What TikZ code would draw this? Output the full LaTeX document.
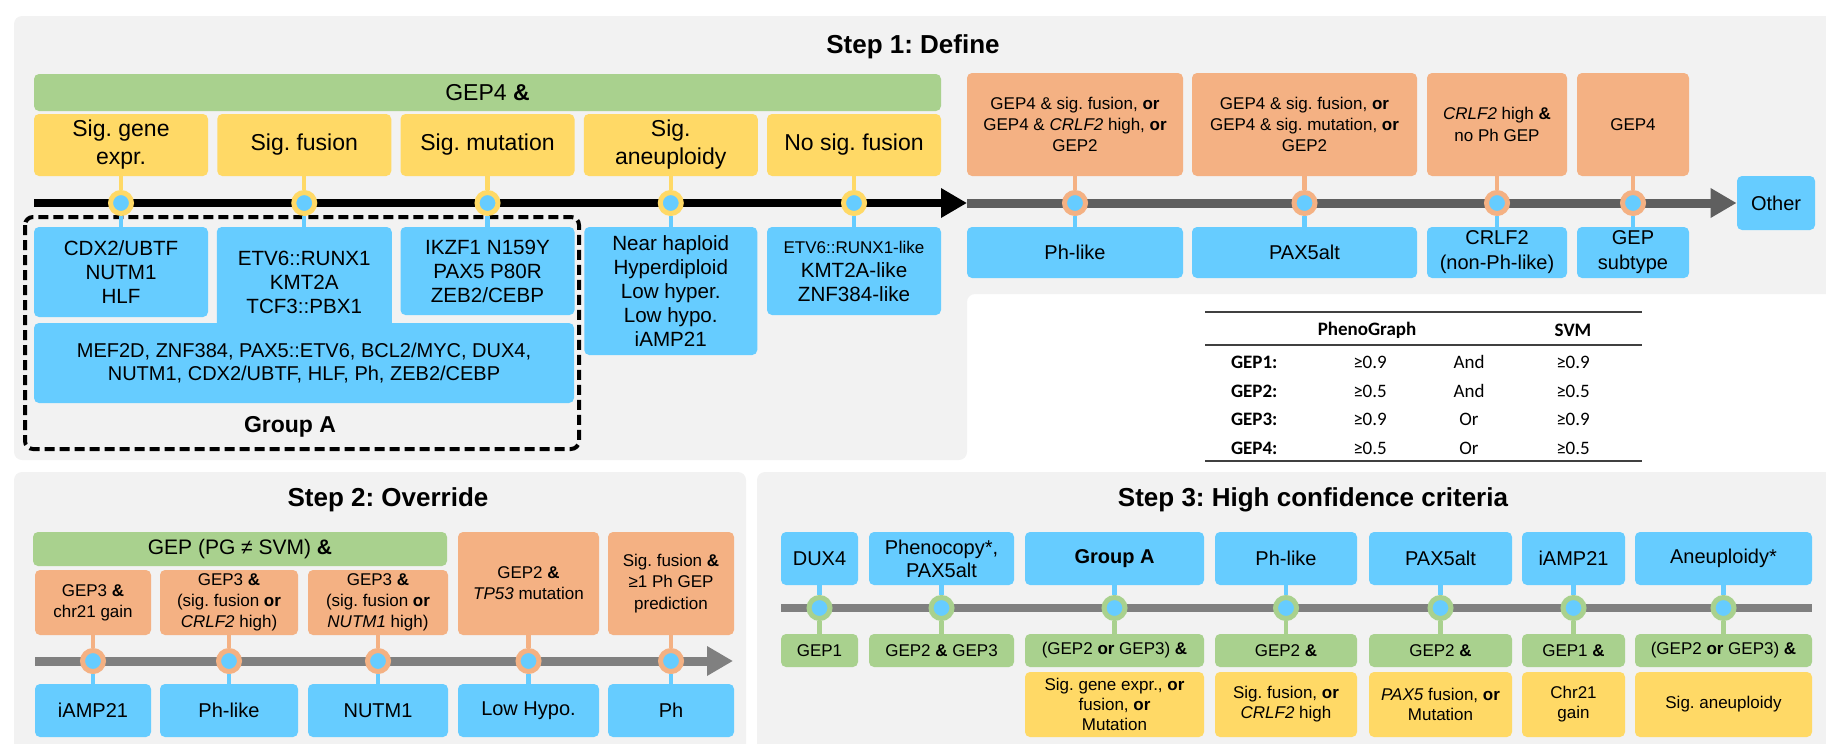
\documentclass[tikz,border=0pt]{standalone}
\usepackage{fontspec}
\setmainfont{Liberation Sans}
\newfontfamily\tablefont{Carlito}
\usetikzlibrary{arrows.meta,positioning}
\frenchspacing

\definecolor{panelgray}{HTML}{F2F2F2}
\definecolor{boxblue}{HTML}{66CCFF}
\definecolor{boxyellow}{HTML}{FFD966}
\definecolor{boxorange}{HTML}{F4B183}
\definecolor{boxgreen}{HTML}{A9D18E}
\definecolor{darkline}{HTML}{5F5F5F}
\definecolor{midline}{HTML}{808080}
\definecolor{rulegray}{HTML}{404040}

\tikzset{
  box/.style={rounded corners=2.5pt, inner sep=0pt, align=center},
  wh/.style 2 args={minimum width=#1, minimum height=#2},
  bluebox/.style={box, fill=boxblue, font=\fontsize{10}{12.5}\selectfont},
  blueboxl/.style={box, fill=boxblue, font=\fontsize{10.3}{12}\selectfont},
  yellowbox/.style={box, fill=boxyellow, font=\fontsize{8.5}{10}\selectfont},
  yellowboxl/.style={box, fill=boxyellow, font=\fontsize{11.5}{14}\selectfont},
  orangebox/.style={box, fill=boxorange, font=\fontsize{8.5}{10.6}\selectfont},
  greenbox/.style={box, fill=boxgreen, font=\fontsize{8.5}{10}\selectfont},
  greenbar/.style={box, fill=boxgreen, font=\fontsize{11.5}{14}\selectfont},
  steptitle/.style={font=\fontsize{13}{15}\selectfont\bfseries},
  joint/.style={circle, draw=#1, fill=boxblue, line width=2.5pt, minimum size=10.5pt, inner sep=0pt},
  stem/.style={draw=#1, line width=2.2pt},
  blackarrow/.style={line width=4pt, -{Triangle[length=13pt,width=14pt]}},
  grayarrow/.style={draw=#1, line width=4.5pt, -{Triangle[length=13pt,width=14pt]}},
  grayline/.style={draw=midline, line width=4.2pt},
  groupframe/.style={line width=2pt, dash pattern=on 5pt off 2.5pt, rounded corners=4pt},
  tabhead/.style={font=\tablefont\fontsize{9.5}{11}\selectfont\bfseries},
  tabcell/.style={font=\tablefont\fontsize{9.5}{11}\selectfont},
  tabrule/.style={draw=rulegray, line width=#1}
}

\begin{document}
\begin{tikzpicture}[x=0.5pt, y=-0.5pt]
        \useasboundingbox (0,0) rectangle (1826,744);

        % ================== Panels ==================
        \fill[panelgray, rounded corners=4pt] (14,16) -- (1850,16) -- (1850,294) -- (967,294) -- (967,460) -- (14,460) -- cycle;
        \fill[panelgray, rounded corners=4pt] (14,472) rectangle (746,770);
        \fill[panelgray, rounded corners=4pt] (757,472) rectangle (1850,770);

        % ================== Step 1: Define ==================
        \node[steptitle] (title1) at (913,47) {Step 1: Define};
        \node[greenbar, wh={453.5pt}{18.5pt}] (gep4) at (487.5,92.5) {GEP4 \textbf{\&}};

        % Left side criteria
        \node[yellowboxl, wh={87pt}{31pt}] (crit1) at (121,145) {Sig. gene\\expr.};
        \node[yellowboxl, wh={87pt}{31pt}] (crit2) at (304.25,145) {Sig. fusion};
        \node[yellowboxl, wh={87pt}{31pt}] (crit3) at (487.5,145) {Sig. mutation};
        \node[yellowboxl, wh={87pt}{31pt}] (crit4) at (670.75,145) {Sig.\\aneuploidy};
        \node[yellowboxl, wh={87pt}{31pt}] (crit5) at (854,145) {No sig. fusion};

        % Left side subtypes
        \node[blueboxl, wh={87pt}{45pt}] (sub1) at (121,272) {CDX2/UBTF\\NUTM1\\HLF};
        \node[blueboxl, wh={87.5pt}{55pt}] (sub2) at (304.25,282) {ETV6::RUNX1\\KMT2A\\TCF3::PBX1};
        \node[blueboxl, wh={87pt}{44pt}] (sub3) at (487.5,271) {IKZF1 N159Y\\PAX5 P80R\\ZEB2/CEBP};
        \node[box, fill=boxblue, font=\fontsize{10}{11.5}\selectfont, wh={270pt}{40pt}] (subAll) at (304,363) {MEF2D, ZNF384, PAX5::ETV6, BCL2/MYC, DUX4,\\NUTM1, CDX2/UBTF, HLF, Ph, ZEB2/CEBP};
        \node[blueboxl, wh={86.5pt}{64pt}] (sub4) at (670.75,291) {Near haploid\\Hyperdiploid\\Low hyper.\\Low hypo.\\iAMP21};
        \node[blueboxl, wh={87pt}{44pt}] (sub5) at (854,271) {{\fontsize{8.5}{12}\selectfont ETV6::RUNX1-like}\\KMT2A-like\\ZNF384-like};
        \node[font=\fontsize{11.5}{14}\selectfont\bfseries] (groupA) at (290,427) {Group A};

        % Right side rules and subtypes
        \node[orangebox, wh={108pt}{51.5pt}] (rRule1) at (1075,124.5) {GEP4 \& sig. fusion, \textbf{or}\\GEP4 \& \textit{CRLF2} high, \textbf{or}\\GEP2};
        \node[orangebox, wh={112.5pt}{51.5pt}] (rRule2) at (1304.5,124.5) {GEP4 \& sig. fusion, \textbf{or}\\GEP4 \& sig. mutation, \textbf{or}\\GEP2};
        \node[orangebox, wh={70pt}{51.5pt}] (rRule3) at (1497,124.5) {\textit{CRLF2} high \textbf{\&}\\no Ph GEP};
        \node[orangebox, wh={56pt}{51.5pt}] (rRule4) at (1633,124.5) {GEP4};
        \node[bluebox, wh={108pt}{25.5pt}] (rRes1) at (1075,252.5) {Ph-like};
        \node[bluebox, wh={112.5pt}{25.5pt}] (rRes2) at (1304.5,252.5) {PAX5alt};
        \node[bluebox, wh={70pt}{25.5pt}] (rRes3) at (1497,252.5) {CRLF2\\(non-Ph-like)};
        \node[bluebox, wh={56pt}{25.5pt}] (rRes4) at (1633,252.5) {GEP\\subtype};
        \node[bluebox, wh={39pt}{27pt}] (other) at (1776,203) {Other};

        % Step 1 arrow
        \coordinate (start1) at (34,203);
        \coordinate (mid1) at (967,203);
        \draw[blackarrow] (start1) -- (mid1);
        \draw[grayarrow=darkline] (mid1) -- (other.west);
        \draw[groupframe] (25,217) rectangle (579,449);

        % Step 1 joints
        \node[joint=boxyellow] (joint1) at (121,203) {};
        \node[joint=boxyellow] (joint2) at (304.25,203) {};
        \node[joint=boxyellow] (joint3) at (487.5,203) {};
        \node[joint=boxyellow] (joint4) at (670.75,203) {};
        \node[joint=boxyellow] (joint5) at (854,203) {};
        \node[joint=boxorange] (rJoint1) at (1075,203) {};
        \node[joint=boxorange] (rJoint2) at (1304.5,203) {};
        \node[joint=boxorange] (rJoint3) at (1497,203) {};
        \node[joint=boxorange] (rJoint4) at (1633,203) {};

        % Step 1 stems
        \draw[stem=boxyellow] (crit1) -- (joint1);
        \draw[stem=boxyellow] (crit2) -- (joint2);
        \draw[stem=boxyellow] (crit3) -- (joint3);
        \draw[stem=boxyellow] (crit4) -- (joint4);
        \draw[stem=boxyellow] (crit5) -- (joint5);
        \draw[stem=boxblue] (joint1) -- (sub1);
        \draw[stem=boxblue] (joint2) -- (sub2.north);
        \draw[stem=boxblue] (joint3) -- (sub3);
        \draw[stem=boxblue] (joint4) -- (sub4.north);
        \draw[stem=boxblue] (joint5) -- (sub5);
        \draw[stem=boxorange] (rRule1) -- (rJoint1);
        \draw[stem=boxorange] (rRule2) -- (rJoint2);
        \draw[stem=boxorange] (rRule3) -- (rJoint3);
        \draw[stem=boxorange] (rRule4) -- (rJoint4);
        \draw[stem=boxblue] (rJoint1) -- (rRes1);
        \draw[stem=boxblue] (rJoint2) -- (rRes2);
        \draw[stem=boxblue] (rJoint3) -- (rRes3);
        \draw[stem=boxblue] (rJoint4) -- (rRes4);

        % GEP table
        \draw[tabrule=0.9pt] (1205,312) -- (1642,312);
        \draw[tabrule=0.7pt] (1205,345) -- (1642,345);
        \draw[tabrule=1.1pt] (1205,461) -- (1642,461);
        \node[tabhead] (thPG) at (1367,330) {PhenoGraph};
        \node[tabhead] (thSVM) at (1573,330) {SVM};
        \node[tabhead, anchor=west] (gep1) at (1224,362) {GEP1:};
        \node[tabhead, anchor=west] (gep2) at (1224,391) {GEP2:};
        \node[tabhead, anchor=west] (gep3) at (1224,419) {GEP3:};
        \node[tabhead, anchor=west] (gep4row) at (1224,448) {GEP4:};
        \node[tabcell] (pg1) at (1370,362) {≥0.9};
        \node[tabcell] (pg2) at (1370,391) {≥0.5};
        \node[tabcell] (pg3) at (1370,419) {≥0.9};
        \node[tabcell] (pg4) at (1370,448) {≥0.5};
        \node[tabcell] (op1) at (1469,362) {And};
        \node[tabcell] (op2) at (1469,391) {And};
        \node[tabcell] (op3) at (1469,419) {Or};
        \node[tabcell] (op4) at (1469,448) {Or};
        \node[tabcell] (svm1) at (1573,362) {≥0.9};
        \node[tabcell] (svm2) at (1573,391) {≥0.5};
        \node[tabcell] (svm3) at (1573,419) {≥0.9};
        \node[tabcell] (svm4) at (1573,448) {≥0.5};

        % ================== Step 2: Override ==================
        \node[steptitle] (title2) at (388,500) {Step 2: Override};
        \node[greenbar, font=\fontsize{10.5}{12}\selectfont, wh={207pt}{17pt}] (gepDiff) at (240,549) {GEP (PG ≠ SVM) \textbf{\&}};
        \node[orangebox, wh={58pt}{32.5pt}] (ovrRule1) at (93,602.5) {GEP3 \textbf{\&}\\chr21 gain};
        \node[orangebox, wh={69pt}{32.5pt}] (ovrRule2) at (229,602.5) {GEP3 \textbf{\&}\\(sig. fusion \textbf{or}\\\textit{CRLF2} high)};
        \node[orangebox, wh={70pt}{32.5pt}] (ovrRule3) at (378,602.5) {GEP3 \textbf{\&}\\(sig. fusion \textbf{or}\\\textit{NUTM1} high)};
        \node[orangebox, wh={70.5pt}{51.5pt}] (ovrRule4) at (528.5,583.5) {GEP2 \textbf{\&}\\\textit{TP53} mutation};
        \node[orangebox, wh={63pt}{51.5pt}] (ovrRule5) at (671,583.5) {Sig. fusion \textbf{\&}\\≥1 Ph GEP\\prediction};
        \node[bluebox, wh={58pt}{26.5pt}] (ovrRes1) at (93,710.5) {iAMP21};
        \node[bluebox, wh={69pt}{26.5pt}] (ovrRes2) at (229,710.5) {Ph-like};
        \node[bluebox, wh={70pt}{26.5pt}] (ovrRes3) at (378,710.5) {NUTM1};
        \node[bluebox, wh={70.5pt}{26.5pt}] (ovrRes4) at (528.5,710.5) {Low Hypo.};
        \node[bluebox, wh={63pt}{26.5pt}] (ovrRes5) at (671,710.5) {Ph};

        \coordinate (start2) at (35,661);
        \coordinate (end2) at (733,661);
        \draw[grayarrow=midline] (start2) -- (end2);

        \node[joint=boxorange] (ovrJoint1) at (93,661) {};
        \node[joint=boxorange] (ovrJoint2) at (229,661) {};
        \node[joint=boxorange] (ovrJoint3) at (378,661) {};
        \node[joint=boxorange] (ovrJoint4) at (528.5,661) {};
        \node[joint=boxorange] (ovrJoint5) at (671,661) {};

        \draw[stem=boxorange] (ovrRule1) -- (ovrJoint1);
        \draw[stem=boxorange] (ovrRule2) -- (ovrJoint2);
        \draw[stem=boxorange] (ovrRule3) -- (ovrJoint3);
        \draw[stem=boxorange] (ovrRule4) -- (ovrJoint4);
        \draw[stem=boxorange] (ovrRule5) -- (ovrJoint5);
        \draw[stem=boxblue] (ovrJoint1) -- (ovrRes1);
        \draw[stem=boxblue] (ovrJoint2) -- (ovrRes2);
        \draw[stem=boxblue] (ovrJoint3) -- (ovrRes3);
        \draw[stem=boxblue] (ovrJoint4) -- (ovrRes4);
        \draw[stem=boxblue] (ovrJoint5) -- (ovrRes5);

        % ================== Step 3: High confidence ==================
        \node[steptitle] (title3) at (1313,500) {Step 3: High confidence criteria};
        \node[bluebox, wh={38.5pt}{26.5pt}] (hcType1) at (819.5,558.5) {DUX4};
        \node[bluebox, font=\fontsize{10}{11.5}\selectfont, wh={72.5pt}{26.5pt}] (hcType2) at (941.5,558.5) {Phenocopy*,\\PAX5alt};
        \node[bluebox, wh={89.5pt}{26.5pt}] (hcType3) at (1114.5,558.5) {\textbf{Group A}};
        \node[bluebox, wh={71pt}{26.5pt}] (hcType4) at (1286,558.5) {Ph-like};
        \node[bluebox, wh={71.5pt}{26.5pt}] (hcType5) at (1440.5,558.5) {PAX5alt};
        \node[bluebox, wh={51.5pt}{26.5pt}] (hcType6) at (1573.5,558.5) {iAMP21};
        \node[bluebox, wh={88.5pt}{26.5pt}] (hcType7) at (1723.5,558.5) {Aneuploidy*};

        \node[greenbox, wh={38.5pt}{16.5pt}] (hcGep1) at (819.5,650.5) {GEP1};
        \node[greenbox, wh={72.5pt}{16.5pt}] (hcGep2) at (941.5,650.5) {GEP2 \textbf{\&} GEP3};
        \node[greenbox, wh={89.5pt}{16.5pt}] (hcGep3) at (1114.5,650.5) {(GEP2 \textbf{or} GEP3) \textbf{\&}};
        \node[greenbox, wh={71pt}{16.5pt}] (hcGep4) at (1286,650.5) {GEP2 \textbf{\&}};
        \node[greenbox, wh={71.5pt}{16.5pt}] (hcGep5) at (1440.5,650.5) {GEP2 \textbf{\&}};
        \node[greenbox, wh={51.5pt}{16.5pt}] (hcGep6) at (1573.5,650.5) {GEP1 \textbf{\&}};
        \node[greenbox, wh={88.5pt}{16.5pt}] (hcGep7) at (1723.5,650.5) {(GEP2 \textbf{or} GEP3) \textbf{\&}};

        \node[yellowbox, wh={89.5pt}{32.5pt}] (hcCrit3) at (1114.5,704.5) {Sig. gene expr., \textbf{or}\\fusion, \textbf{or}\\Mutation};
        \node[yellowbox, wh={71pt}{32.5pt}] (hcCrit4) at (1286,704.5) {Sig. fusion, \textbf{or}\\\textit{CRLF2} high};
        \node[yellowbox, wh={71.5pt}{32.5pt}] (hcCrit5) at (1440.5,704.5) {\textit{PAX5} fusion, \textbf{or}\\Mutation};
        \node[yellowbox, wh={51.5pt}{32.5pt}] (hcCrit6) at (1573.5,704.5) {Chr21\\gain};
        \node[yellowbox, wh={88.5pt}{32.5pt}] (hcCrit7) at (1723.5,704.5) {Sig. aneuploidy};

        \coordinate (start3) at (781,608);
        \coordinate (end3) at (1812,608);
        \draw[grayline] (start3) -- (end3);

        \node[joint=boxgreen] (hcJoint1) at (819.5,608) {};
        \node[joint=boxgreen] (hcJoint2) at (941.5,608) {};
        \node[joint=boxgreen] (hcJoint3) at (1114.5,608) {};
        \node[joint=boxgreen] (hcJoint4) at (1286,608) {};
        \node[joint=boxgreen] (hcJoint5) at (1440.5,608) {};
        \node[joint=boxgreen] (hcJoint6) at (1573.5,608) {};
        \node[joint=boxgreen] (hcJoint7) at (1723.5,608) {};

        \draw[stem=boxblue] (hcType1) -- (hcJoint1);
        \draw[stem=boxblue] (hcType2) -- (hcJoint2);
        \draw[stem=boxblue] (hcType3) -- (hcJoint3);
        \draw[stem=boxblue] (hcType4) -- (hcJoint4);
        \draw[stem=boxblue] (hcType5) -- (hcJoint5);
        \draw[stem=boxblue] (hcType6) -- (hcJoint6);
        \draw[stem=boxblue] (hcType7) -- (hcJoint7);
        \draw[stem=boxgreen] (hcJoint1) -- (hcGep1);
        \draw[stem=boxgreen] (hcJoint2) -- (hcGep2);
        \draw[stem=boxgreen] (hcJoint3) -- (hcGep3);
        \draw[stem=boxgreen] (hcJoint4) -- (hcGep4);
        \draw[stem=boxgreen] (hcJoint5) -- (hcGep5);
        \draw[stem=boxgreen] (hcJoint6) -- (hcGep6);
        \draw[stem=boxgreen] (hcJoint7) -- (hcGep7);
\end{tikzpicture}
\end{document}
